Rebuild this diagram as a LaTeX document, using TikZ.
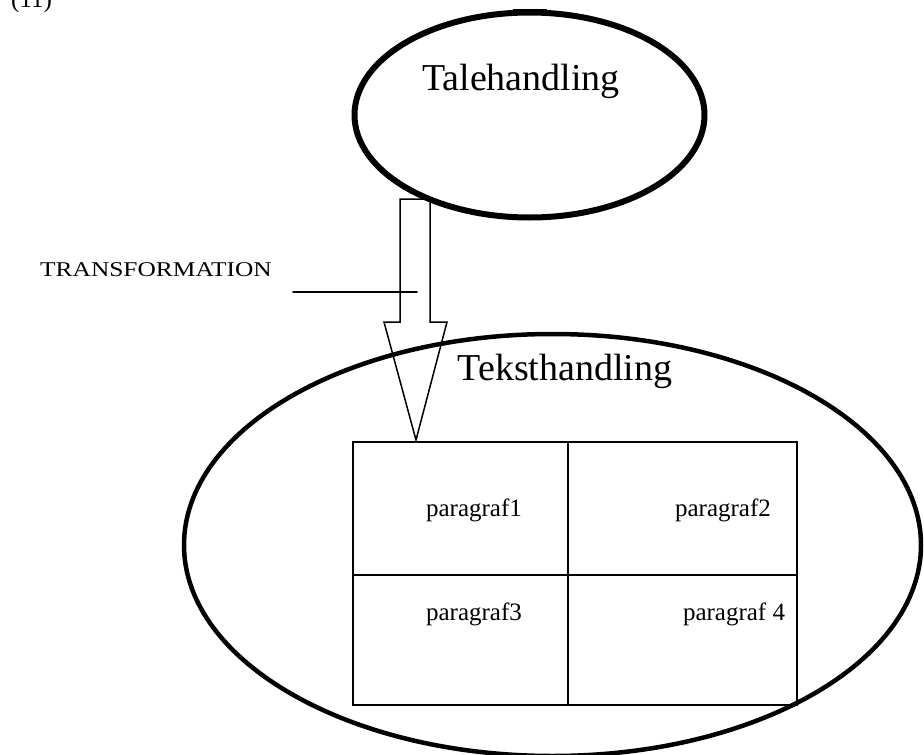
\documentclass[tikz,border=0pt]{standalone}
\usepackage{fontspec}
\setmainfont{Liberation Serif}
\usetikzlibrary{shapes.geometric}

\begin{document}
\begin{tikzpicture}[x=1pt,y=-1pt,line cap=round,
  oval/.style={draw,ellipse,inner sep=0pt},
  title/.style={anchor=base,inner sep=0pt,font=\fontsize{38}{40}\selectfont},
  cell/.style={anchor=base,inner sep=0pt,font=\fontsize{25}{27}\selectfont}]
  \useasboundingbox (0,0) rectangle (924,755);

  % number, cut by the top edge
  \node[anchor=base west,inner sep=0pt,font=\fontsize{25}{27}\selectfont] (num) at (11,7) {(11)};

  % upper oval
  \node[oval,line width=6pt,minimum width=350pt,minimum height=205pt] (tale) at (529.5,115) {};
  \fill (513,9) rectangle (547,15);
  \node[title] (taletxt) at (521,90) {Talehandling};

  % lower oval
  \node[oval,line width=4.5pt,minimum width=737pt,minimum height=422pt] (tekst) at (552.5,545) {};
  \node[title] (teksttxt) at (565,380) {Teksthandling};

  % table of paragraphs
  \draw[line width=1.8pt] (353,442) rectangle (797,705);
  \draw[line width=1.8pt] (568,442) -- (568,705);
  \draw[line width=1.8pt] (353,575) -- (797,575);
  \node[cell] (p1) at (474,516) {paragraf1};
  \node[cell] (p2) at (723,516) {paragraf2};
  \node[cell] (p3) at (474,620) {paragraf3};
  \node[cell] (p4) at (734,620) {paragraf 4};

  % block arrow
  \draw[line width=1.5pt,line join=miter] (400,199) -- (430,199) -- (430,322) -- (447,322)
    -- (416,440) -- (384,322) -- (400,322) -- cycle;

  % label with its pointer line
  \node[anchor=base west,inner sep=0pt,font=\fontsize{21}{23}\selectfont] (trans) at (40,276)
    {\scalebox{1.21}[1]{TRANSFORMATION}};
  \coordinate (pstart) at (293,292);
  \coordinate (pend) at (417,292);
  \draw[line width=1.5pt] (pstart) -- (pend);
\end{tikzpicture}
\end{document}
